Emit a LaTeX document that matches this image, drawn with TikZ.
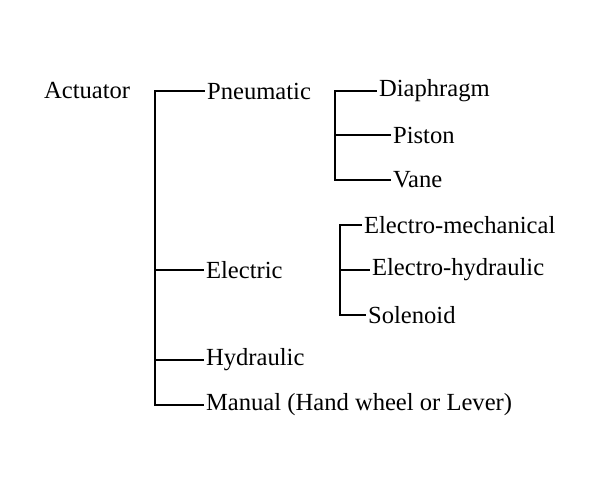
\documentclass[tikz,border=0pt]{standalone}
\usepackage{fontspec}
\setmainfont{Liberation Serif}
\begin{document}
\begin{tikzpicture}[x=0.02cm,y=-0.02cm, lbl/.style={anchor=west,inner sep=1pt,font=\fontsize{14}{16}\selectfont}, br/.style={line width=1.1pt}]
    \useasboundingbox (0,0) rectangle (600,500);
    \node[lbl] (act) at (42,91) {Actuator};
    \node[lbl] (pn) at (205,91) {Pneumatic};
    \node[lbl] (el) at (204,270) {Electric};
    \node[lbl] (hy) at (204,360) {Hydraulic};
    \node[lbl] (ma) at (204,405) {Manual (Hand wheel or Lever)};
    \node[lbl] (di) at (377,91) {Diaphragm};
    \node[lbl] (pi) at (391,135) {Piston};
    \node[lbl] (va) at (391,180) {Vane};
    \node[lbl] (em) at (362,225) {Electro-mechanical};
    \node[lbl] (eh) at (370,270) {Electro-hydraulic};
    \node[lbl] (so) at (366,315) {Solenoid};

    \coordinate (a1) at (155,91);
    \coordinate (a2) at (155,270);
    \coordinate (a3) at (155,360);
    \coordinate (a4) at (155,405);
    \coordinate (b1) at (335,91);
    \coordinate (b2) at (335,135);
    \coordinate (b3) at (335,180);
    \coordinate (c1) at (340,225);
    \coordinate (c2) at (340,270);
    \coordinate (c3) at (340,315);

    \draw[br] (a1 -| pn.west) -- (a1) -- (a4) -- (a4 -| ma.west);
    \draw[br] (a2) -- (a2 -| el.west);
    \draw[br] (a3) -- (a3 -| hy.west);
    \draw[br] (b1 -| di.west) -- (b1) -- (b3) -- (b3 -| va.west);
    \draw[br] (b2) -- (b2 -| pi.west);
    \draw[br] (c1 -| em.west) -- (c1) -- (c3) -- (c3 -| so.west);
    \draw[br] (c2) -- (c2 -| eh.west);
\end{tikzpicture}
\end{document}
